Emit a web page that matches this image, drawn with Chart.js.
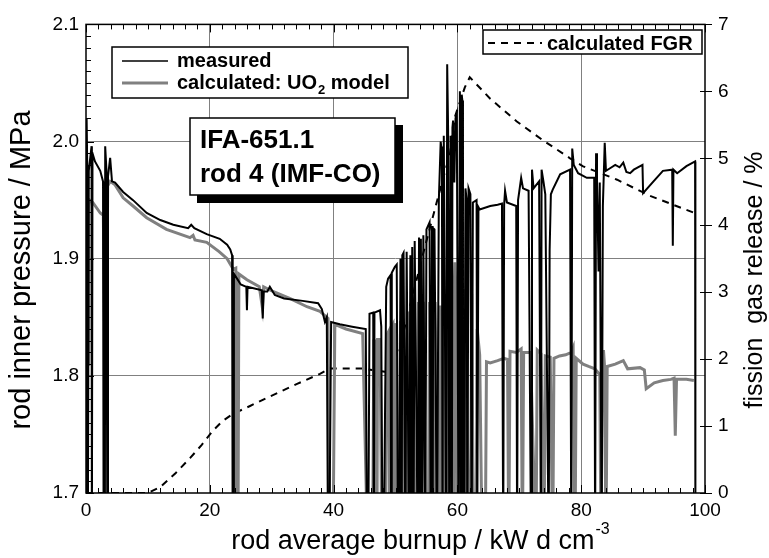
<!DOCTYPE html>
<html>
<head>
<meta charset="utf-8">
<script src="https://cdn.jsdelivr.net/npm/chart.js@4.4.1/dist/chart.umd.min.js"></script>
<style>
  html, body { margin: 0; padding: 0; background: #fff; }
  #wrap { width: 769px; height: 558px; }
</style>
</head>
<body>
<div id="wrap"><canvas id="fgrChart"></canvas></div>
<script>
// burnup (kW d cm-3) vs rod inner pressure (MPa); 1.65 = pressure drop below the axis
var measured = [
  [0.0,1.65],[0.1,2.02],[0.2,1.98],[0.3,1.65],[0.45,1.975],[0.9,1.996],[0.95,1.65],[1.05,1.99],
  [1.45,1.983],[2.3,1.975],[2.75,1.966],[2.85,1.65],[3.05,1.65],[3.1,1.996],[3.3,1.976],[3.45,1.65],
  [3.55,1.97],[3.9,1.986],[4.2,1.966],[4.7,1.965],[6,1.957],[7.6,1.950],[9.8,1.939],[12,1.933],
  [14.1,1.929],[16.5,1.926],[17.0,1.929],[17.5,1.926],[19.5,1.921],[21.6,1.917],[22.8,1.912],
  [23.3,1.908],[23.6,1.903],[23.7,1.65],[23.85,1.65],[23.9,1.887],[24.4,1.883],[25,1.878],
  [25.9,1.876],[26.0,1.856],[26.1,1.876],[28.4,1.873],[28.55,1.849],[28.7,1.872],[29.3,1.872],
  [29.7,1.876],[30.5,1.869],[32,1.866],[35,1.864],[37.5,1.862],[38.1,1.857],[38.6,1.846],
  [38.9,1.850],[39.1,1.65],[39.3,1.65],[39.6,1.846],[41,1.844],[43,1.842],[45.2,1.840],
  [45.4,1.65],[45.6,1.65],[45.8,1.853],[46.4,1.854],[46.5,1.65],[46.6,1.854],[47.5,1.856],
  [47.7,1.842],[47.9,1.65],[48.1,1.65],[48.5,1.876],[48.8,1.883],[49.2,1.886],[49.3,1.65],
  [49.4,1.888],[49.9,1.893],[50.2,1.895],[50.4,1.65],[50.6,1.65],[50.8,1.900],[51.0,1.65],
  [51.1,1.903],[51.3,1.905],[51.6,1.65],[51.8,1.906],[52.2,1.65],[52.4,1.903],[52.6,1.65],
  [52.7,1.910],[52.9,1.65],[53.1,1.915],[53.6,1.65],[53.8,1.918],[54.0,1.65],[54.1,1.917],
  [54.3,1.65],[54.5,1.920],[54.8,1.65],[55.0,1.925],[55.5,1.931],[55.7,1.65],[55.9,1.928],
  [56.0,1.65],[56.1,1.926],[56.3,1.925],[56.7,1.65],[57.0,1.950],[57.3,2.000],[57.5,1.990],
  [57.6,1.65],[57.7,1.995],[57.8,2.005],[58.2,1.65],[58.35,2.066],[58.5,2.010],[58.7,1.65],
  [58.9,2.005],[59.1,1.65],[59.2,2.012],[59.3,2.018],[59.5,1.965],[59.7,2.020],[59.9,2.024],
  [60.2,1.65],[60.4,2.043],[60.6,1.65],[60.7,2.040],[60.8,2.035],[60.9,1.65],[61.1,1.65],
  [61.3,1.960],[61.5,1.950],[61.6,1.65],[61.8,1.960],[62.1,1.955],[62.3,1.65],[62.5,1.948],
  [63.1,1.950],[63.2,1.65],[63.4,1.944],[63.6,1.942],[65.3,1.945],[66.5,1.946],[67.2,1.947],
  [67.4,1.65],[67.55,1.946],[67.7,1.958],[68,1.948],[69.5,1.945],[69.65,1.65],[69.8,1.950],
  [70.3,1.969],[70.6,1.960],[71.5,1.958],[71.9,1.65],[72.05,1.976],[72.3,1.960],[73.2,1.966],
  [73.5,1.65],[73.6,1.976],[73.9,1.966],[74.2,1.955],[74.75,1.65],[74.9,1.907],[75.1,1.955],
  [75.4,1.959],[76.6,1.972],[78.2,1.976],[78.4,1.65],[78.55,1.994],[78.8,1.980],[79.5,1.973],
  [80.9,1.969],[82.1,1.969],[82.25,1.65],[82.4,1.990],[82.55,1.969],[82.8,1.889],[83.0,1.965],
  [83.3,1.65],[83.5,1.945],[83.8,1.999],[84.0,1.975],[84.6,1.977],[85.5,1.980],[86.2,1.978],
  [86.8,1.982],[87.3,1.974],[87.9,1.973],[88.5,1.976],[89.9,1.980],[90.0,1.956],[91.5,1.965],
  [93.2,1.975],[94.7,1.976],[94.8,1.911],[94.9,1.976],[95.5,1.973],[97,1.979],[98.4,1.983],
  [98.45,1.65]
];

var calculated = [
  [0.4,1.81],[0.45,1.945],[0.6,1.950],[1.1,1.948],[2.3,1.939],[2.8,1.937],[3.1,1.79],
  [3.3,1.79],[3.5,1.962],[3.9,1.966],[4.7,1.963],[6,1.952],[7.6,1.945],[9.8,1.935],[13,1.925],
  [16.8,1.918],[17.3,1.920],[17.6,1.916],[19.5,1.914],[21.5,1.906],[22.8,1.900],[23.8,1.891],
  [24.2,1.892],[24.35,1.65],[24.55,1.65],[24.7,1.887],[26,1.882],[28,1.876],[28.5,1.858],
  [28.7,1.876],[30.2,1.872],[33,1.866],[35.7,1.859],[37.8,1.855],[39.1,1.849],[39.4,1.65],
  [39.9,1.65],[40.2,1.844],[42,1.840],[44.7,1.836],[45.5,1.65],[46.3,1.65],[46.5,1.831],
  [46.7,1.65],[46.85,1.831],[47.0,1.65],[47.1,1.831],[47.5,1.831],[47.8,1.65],[48.3,1.65],
  [48.6,1.835],[48.9,1.838],[49.0,1.65],[49.2,1.65],[49.3,1.841],[49.6,1.844],[49.8,1.65],
  [49.95,1.845],[50.2,1.65],[50.5,1.65],[50.8,1.847],[51.0,1.65],[51.1,1.848],[51.2,1.849],
  [51.5,1.65],[51.9,1.65],[52.1,1.855],[52.4,1.65],[52.5,1.860],[52.8,1.863],[53.2,1.65],
  [53.5,1.65],[53.7,1.863],[54.0,1.65],[54.2,1.862],[54.5,1.862],[54.9,1.65],[55.3,1.65],
  [55.5,1.863],[55.7,1.65],[55.8,1.863],[55.9,1.65],[56.1,1.863],[56.3,1.65],[56.4,1.863],
  [56.5,1.863],[56.9,1.65],[57.2,1.860],[57.4,1.65],[57.5,1.860],[57.6,1.65],[57.8,1.861],
  [58.0,1.65],[58.1,1.862],[58.3,1.862],[58.6,1.65],[58.9,1.65],[59.1,1.865],[59.3,1.65],
  [59.45,1.870],[59.6,1.897],[59.8,1.868],[60.0,1.65],[60.1,1.870],[60.2,1.65],[60.5,1.65],
  [60.7,1.874],[61.0,1.65],[61.1,1.874],[61.3,1.65],[61.4,1.874],[61.5,1.874],[61.8,1.65],
  [62.1,1.65],[62.3,1.870],[62.6,1.65],[63.0,1.65],[63.2,1.840],[63.6,1.818],[64.0,1.65],
  [64.5,1.65],[64.7,1.812],[65.3,1.811],[66.5,1.813],[67.5,1.815],[68.1,1.814],[68.3,1.65],
  [68.5,1.821],[69.5,1.820],[70.3,1.823],[70.5,1.65],[70.7,1.820],[71.8,1.820],[72.7,1.65],
  [72.9,1.822],[73.5,1.819],[74.0,1.65],[74.2,1.817],[75.0,1.816],[75.4,1.65],[75.6,1.815],
  [76.5,1.817],[77.5,1.818],[78.4,1.820],[78.7,1.824],[79.0,1.65],[79.2,1.815],[80.3,1.810],
  [81.2,1.808],[82.2,1.806],[83.0,1.801],[83.2,1.65],[83.4,1.800],[83.6,1.822],[83.8,1.806],
  [84.0,1.65],[84.2,1.808],[85.5,1.810],[86.8,1.813],[87.5,1.806],[89.5,1.807],[90.2,1.805],
  [90.5,1.789],[91.8,1.794],[93.2,1.796],[94.5,1.797],[95.0,1.798],[95.2,1.749],[95.4,1.797],
  [97,1.797],[98.2,1.796]
];

// burnup vs calculated fission gas release (%)
var fgr = [
  [0,0],[10,0],[12,0.09],[14.5,0.30],[16.8,0.52],[18.7,0.72],[20.5,0.93],[22,1.07],[23.7,1.18],
  [26.5,1.30],[29.2,1.42],[34.1,1.63],[37.8,1.78],[39.4,1.86],[44.7,1.86],[47.5,1.82],[49.1,1.80],
  [51.2,2.37],[52.8,2.96],[54.4,3.55],[55.9,4.08],[57.2,4.53],[58.8,5.07],[59.6,5.62],[61.2,6.06],
  [62.0,6.21],[65.3,5.89],[69.6,5.55],[73.8,5.27],[78.2,5.00],[80.3,4.88],[85.8,4.68],[91.1,4.44],
  [98.1,4.19]
];

var burnupTicks = [0, 20, 40, 60, 80, 100];
var pressureTicks = [1.7, 1.8, 1.9, 2.0, 2.1];
var pressureLabels = ['1.7', '1.8', '1.9', '2.0', '2.1'];
var fgrTicks = [0, 1, 2, 3, 4, 5, 6, 7];

var GRAY = '#808080';
var FONT = "'Liberation Sans', Arial, sans-serif";
Chart.defaults.font.family = FONT;
Chart.defaults.color = '#000';

function pts(arr) {
  return arr.map(function (p) { return { x: p[0], y: p[1] }; });
}

function fixTicks(values) {
  return function (scale) {
    scale.ticks = values.map(function (v) { return { value: v }; });
  };
}

function innerGrid(ctx) {
  var s = ctx.scale;
  var v = ctx.tick ? ctx.tick.value : null;
  return (v !== null && v > s.min + 1e-6 && v < s.max - 1e-6) ? GRAY : 'rgba(0,0,0,0)';
}

var decor = {
  id: 'decor',
  afterDraw: function (chart) {
    var c = chart.ctx, a = chart.chartArea;
    var xs = chart.scales.x, ys = chart.scales.y, y2 = chart.scales.y2;
    var i, px, py;
    c.save();
    c.strokeStyle = '#000';
    c.lineWidth = 1;
    c.beginPath();
    // x minor ticks, bottom and top, inside
    for (i = 0; i <= 50; i++) {
      px = Math.round(xs.getPixelForValue(i * 2)) + 0.5;
      var len = (i % 10 === 0) ? 8 : 5;
      c.moveTo(px, a.bottom); c.lineTo(px, a.bottom - len);
      c.moveTo(px, a.top); c.lineTo(px, a.top + len);
    }
    // left minor ticks
    for (i = 0; i <= 40; i++) {
      py = Math.round(ys.getPixelForValue(1.7 + i * 0.01)) + 0.5;
      c.moveTo(a.left, py); c.lineTo(a.left + ((i % 10 === 0) ? 8 : 5), py);
    }
    // right ticks
    for (i = 0; i < fgrTicks.length; i++) {
      py = Math.round(y2.getPixelForValue(fgrTicks[i])) + 0.5;
      c.moveTo(a.right - 5, py); c.lineTo(a.right + 7, py);
    }
    c.stroke();

    // frame
    c.lineWidth = 1.5;
    c.strokeRect(a.left, a.top, a.right - a.left, a.bottom - a.top);

    // legend: measured / calculated
    c.fillStyle = '#fff';
    c.fillRect(112, 47, 296, 51);
    c.lineWidth = 1.5;
    c.strokeRect(112, 47, 296, 51);
    c.beginPath(); c.strokeStyle = '#000'; c.lineWidth = 1.5;
    c.moveTo(122, 61); c.lineTo(168, 61); c.stroke();
    c.beginPath(); c.strokeStyle = GRAY; c.lineWidth = 3;
    c.moveTo(122, 83); c.lineTo(168, 83); c.stroke();
    c.fillStyle = '#000';
    c.font = 'bold 20px ' + FONT;
    c.textAlign = 'left';
    c.textBaseline = 'alphabetic';
    c.fillText('measured', 177, 67);
    var t1 = 'calculated: UO';
    c.fillText(t1, 177, 89);
    var w = c.measureText(t1).width;
    c.font = 'bold 13px ' + FONT;
    c.fillText('2', 177 + w + 1, 94);
    var w2 = c.measureText('2').width;
    c.font = 'bold 20px ' + FONT;
    c.fillText(' model', 177 + w + w2 + 1, 89);

    // legend: FGR
    c.fillStyle = '#fff';
    c.fillRect(483, 30, 219, 24);
    c.strokeStyle = '#000'; c.lineWidth = 1.5;
    c.strokeRect(483, 30, 219, 24);
    c.beginPath(); c.lineWidth = 2; c.setLineDash([7, 6]);
    c.moveTo(488, 43); c.lineTo(542, 43); c.stroke();
    c.setLineDash([]);
    c.fillStyle = '#000';
    c.font = 'bold 20px ' + FONT;
    c.fillText('calculated FGR', 547, 50);

    // annotation box with shadow
    c.fillStyle = '#000';
    c.fillRect(197, 125, 206, 78);
    c.fillStyle = '#fff';
    c.fillRect(190, 118, 205, 77);
    c.lineWidth = 1.5;
    c.strokeRect(190, 118, 205, 77);
    c.fillStyle = '#000';
    c.font = 'bold 26px ' + FONT;
    c.fillText('IFA-651.1', 200, 148);
    c.fillText('rod 4 (IMF-CO)', 200, 182);

    // axis titles
    c.textBaseline = 'middle';
    c.textAlign = 'left';
    c.font = '27px ' + FONT;
    var bt = 'rod average burnup / kW d cm';
    var bw = c.measureText(bt).width;
    c.font = '16px ' + FONT;
    var sw = c.measureText('-3').width;
    var bx = 420 - (bw + sw) / 2;
    c.font = '27px ' + FONT;
    c.fillText(bt, bx, 542);
    c.font = '16px ' + FONT;
    c.fillText('-3', bx + bw + 1, 530);

    c.textAlign = 'center';
    c.font = '29px ' + FONT;
    c.save();
    c.translate(22, 270);
    c.rotate(-Math.PI / 2);
    c.fillText('rod inner pressure / MPa', 0, 0);
    c.restore();
    c.font = '25px ' + FONT;
    c.save();
    c.translate(755, 280);
    c.rotate(-Math.PI / 2);
    c.fillText('fission  gas release / %', 0, 0);
    c.restore();
    c.restore();
  }
};

new Chart(document.getElementById('fgrChart').getContext('2d'), {
  type: 'line',
  data: {
    datasets: [{
      label: 'measured',
      data: pts(measured),
      borderColor: '#000',
      borderWidth: 2,
      pointRadius: 0,
      yAxisID: 'y'
    }, {
      label: 'calculated: UO2 model',
      data: pts(calculated),
      borderColor: GRAY,
      borderWidth: 3,
      pointRadius: 0,
      yAxisID: 'y'
    }, {
      label: 'calculated FGR',
      data: pts(fgr),
      borderColor: '#000',
      borderWidth: 2,
      borderDash: [7, 6],
      pointRadius: 0,
      yAxisID: 'y2'
    }]
  },
  options: {
    responsive: true,
    maintainAspectRatio: false,
    animation: false,
    layout: { padding: { top: 20, left: 0, right: 0, bottom: 0 } },
    plugins: { legend: { display: false }, tooltip: { enabled: false } },
    scales: {
      x: {
        type: 'linear', min: 0, max: 100,
        afterBuildTicks: fixTicks(burnupTicks),
        afterFit: function (s) { s.height = 65; },
        ticks: { font: { size: 19 }, padding: 6, maxRotation: 0 },
        grid: { color: innerGrid, drawTicks: false },
        border: { display: false }
      },
      y: {
        type: 'linear', position: 'left', min: 1.7, max: 2.1,
        afterBuildTicks: fixTicks(pressureTicks),
        afterFit: function (s) { s.width = 86; },
        ticks: {
          font: { size: 19 }, padding: 7,
          callback: function (v, i) { return pressureLabels[i]; }
        },
        grid: { color: innerGrid, drawTicks: false },
        border: { display: false }
      },
      y2: {
        type: 'linear', position: 'right', min: 0, max: 7,
        afterBuildTicks: fixTicks(fgrTicks),
        afterFit: function (s) { s.width = 64; },
        ticks: { font: { size: 19 }, padding: 13 },
        grid: { display: false, drawTicks: false },
        border: { display: false }
      }
    }
  },
  plugins: [decor]
});
</script>
</body>
</html>
